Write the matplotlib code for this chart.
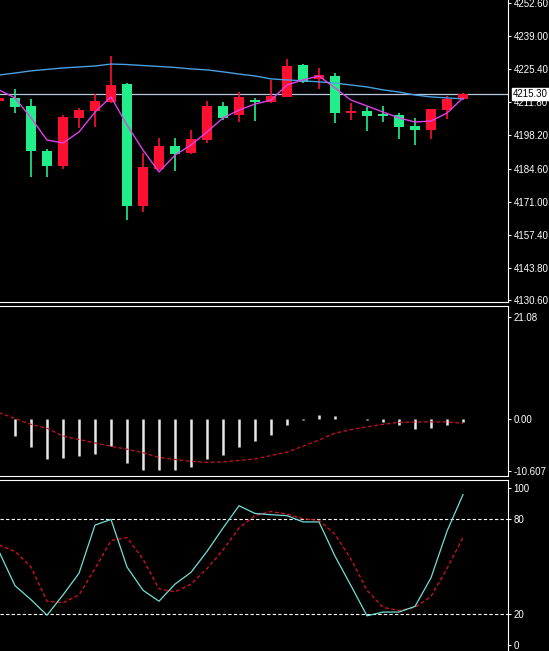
import matplotlib
matplotlib.use("Agg")
import matplotlib.pyplot as plt
import numpy as np

plt.rcParams["font.family"] = ["Liberation Sans", "DejaVu Sans"]

# ── candles (index 0..29) ────────────────────────────────────────────────
OPEN  = [4212.3, 4213.7, 4210.3, 4191.9, 4185.6, 4205.5, 4208.2, 4212.1, 4219.2, 4169.3,
         4184.4, 4193.9, 4190.9, 4196.3, 4210.4, 4206.6, 4212.7, 4211.9, 4214.1, 4227.0,
         4221.3, 4222.6, 4207.5, 4208.1, 4207.0, 4206.6, 4202.1, 4200.4, 4208.6, 4213.0]
CLOSE = [4213.6, 4210.0, 4191.9, 4185.6, 4205.9, 4208.6, 4212.3, 4218.9, 4169.3, 4185.1,
         4193.9, 4190.4, 4196.8, 4210.4, 4205.5, 4214.0, 4211.8, 4214.4, 4226.7, 4220.0,
         4223.1, 4207.5, 4208.3, 4206.3, 4206.0, 4201.8, 4200.4, 4208.9, 4213.0, 4215.3]
HIGH  = [4214.0, 4217.3, 4213.2, 4192.7, 4206.5, 4209.6, 4215.1, 4230.8, 4219.9, 4191.0,
         4197.1, 4197.3, 4200.4, 4212.5, 4211.9, 4216.0, 4213.7, 4221.0, 4229.5, 4227.5,
         4225.8, 4223.7, 4211.6, 4210.0, 4210.3, 4207.5, 4205.2, 4209.2, 4214.4, 4215.6]
LOW   = [4211.8, 4207.4, 4181.1, 4181.2, 4184.6, 4201.2, 4201.8, 4211.5, 4163.4, 4166.7,
         4184.0, 4183.5, 4190.5, 4195.1, 4204.5, 4203.7, 4204.3, 4211.5, 4213.9, 4219.6,
         4217.1, 4203.4, 4204.5, 4200.0, 4203.8, 4196.6, 4194.3, 4196.6, 4204.8, 4212.6]
MA_FAST = [4216.9, 4213.6, 4205.4, 4196.3, 4195.1, 4199.6, 4207.8, 4214.0, 4202.5, 4192.2,
           4183.2, 4190.1, 4194.3, 4199.6, 4205.4, 4208.6, 4211.1, 4212.7, 4218.9, 4221.0,
           4222.6, 4217.7, 4212.7, 4210.3, 4207.8, 4205.4, 4203.7, 4204.1, 4207.4, 4213.6]
MA_SLOW = [4223.0, 4223.8, 4224.7, 4225.3, 4225.9, 4226.3, 4226.7, 4227.5, 4227.3, 4226.9,
           4226.5, 4226.1, 4225.5, 4225.1, 4224.3, 4223.4, 4222.6, 4221.4, 4221.0, 4220.6,
           4220.2, 4219.7, 4218.9, 4218.1, 4216.9, 4216.0, 4214.8, 4214.0, 4213.6, 4213.2]
LAST = 4215.30
PRICE_TICKS = [4252.60, 4239.00, 4225.40, 4211.80, 4198.20, 4184.60, 4171.00, 4157.40, 4143.80, 4130.60]

# ── MACD-like panel ─────────────────────────────────────────────────────
HIST = [-3.4, -5.7, -8.2, -8.0, -7.5, -7.0, -5.5, -8.9, -10.3, -10.3,
        -10.4, -9.8, -8.2, -7.2, -5.7, -4.5, -3.2, -1.2, -0.1, 1.0,
        0.7, 0.1, -0.1, -0.5, -1.2, -1.9, -1.7, -1.2, -0.5]   # index 1..29
SIGNAL = [1.4, 0.2, -1.0, -1.8, -3.4, -4.1, -4.8, -5.5, -6.1, -6.8,
          -7.8, -8.2, -8.6, -8.8, -8.7, -8.4, -8.1, -7.4, -6.7, -5.5,
          -4.2, -2.8, -2.1, -1.5, -1.0, -0.6, -0.5, -0.5, -0.5, -0.8]
MACD_TICKS = [21.08, 0.00, -10.607]
MACD_LABELS = ["21.08", "0.00", "-10.607"]

# ── stochastic ──────────────────────────────────────────────────────────
K = [59.6, 37.8, 28.9, 19.0, 31.9, 45.7, 76.4, 80.0, 49.7, 34.9,
     27.9, 38.8, 46.3, 59.6, 74.5, 88.7, 83.8, 83.0, 82.4, 78.4,
     78.4, 56.6, 37.8, 18.6, 21.0, 21.0, 24.6, 42.8, 72.5, 95.8]
D = [63.6, 59.6, 49.7, 27.9, 26.9, 31.9, 48.7, 66.5, 68.5, 54.7,
     35.8, 33.9, 38.8, 48.7, 60.6, 74.5, 82.4, 85.0, 83.4, 80.4,
     79.4, 70.5, 54.7, 34.9, 24.0, 22.0, 24.0, 30.9, 48.7, 68.5]
STOCH_TICKS = [100, 80, 20, 0]

W, H = 549, 651
AX_R = 508
XL = (1 / 16, (AX_R + 1) / 16)
UP, DOWN = "#ff1030", "#22ee8a"

fig = plt.figure(figsize=(W / 100, H / 100), dpi=100, facecolor="black")


def make_ax(top, bottom):
    ax = fig.add_axes([0, 1 - bottom / H, AX_R / W, (bottom - top) / H])
    ax.set_facecolor("black")
    ax.spines["left"].set_visible(False)
    for s in ("right", "top", "bottom"):
        ax.spines[s].set_color("white")
    ax.yaxis.tick_right()
    ax.tick_params(axis="y", colors="white", labelsize=7, length=2.5, pad=1.5)
    ax.set_xticks([])
    ax.set_xlim(*XL)
    return ax


# main panel
ax = make_ax(0, 302)
x = np.arange(len(OPEN))
for i in x:
    o, c = OPEN[i], CLOSE[i]
    col = UP if c >= o else DOWN
    ax.vlines(i, LOW[i], HIGH[i], color=col, linewidth=1.2, zorder=2)
    ax.bar(i, max(abs(c - o), 0.4), bottom=min(o, c), width=0.68, color=col, zorder=3)
ax.plot(x, MA_SLOW, color="#4a9fe0", linewidth=1, zorder=4)
ax.plot(x, MA_FAST, color="#e040e8", linewidth=1, zorder=4)
ax.axhline(LAST, color="#b8c8e0", linewidth=0.9, zorder=1)
ax.set_ylim(4129.8, 4253.8)
ax.set_yticks(PRICE_TICKS)
ax.set_yticklabels([f"{v:.2f}" for v in PRICE_TICKS])
ax.spines["top"].set_visible(False)
ax.text(1.01, LAST, f"{LAST:.2f}", transform=ax.get_yaxis_transform(), fontsize=7,
        color="black", va="center", ha="left",
        bbox=dict(boxstyle="square,pad=0.12", fc="white", ec="white"), clip_on=False, zorder=10)

# MACD panel
ax2 = make_ax(306, 476)
xi = np.arange(1, len(HIST) + 1)
ax2.vlines(xi, 0, HIST, color="#e8e8e8", linewidth=1.8)
ax2.plot(np.arange(len(SIGNAL)), SIGNAL, color="#d01020", linewidth=0.9, linestyle=(0, (3, 2)))
ax2.set_ylim(-11.6, 23.3)
ax2.set_yticks(MACD_TICKS)
ax2.set_yticklabels(MACD_LABELS)

# stochastic panel
ax3 = make_ax(480, 651)
ax3.axhline(80, color="white", linewidth=0.8, linestyle=(0, (3, 2)))
ax3.axhline(20, color="white", linewidth=0.8, linestyle=(0, (3, 2)))
ax3.plot(x, D, color="#e01020", linewidth=0.9, linestyle=(0, (3, 2)))
ax3.plot(x, K, color="#70e0d8", linewidth=0.9)
ax3.set_ylim(-3.8, 105.1)
ax3.set_yticks(STOCH_TICKS)
ax3.set_yticklabels([str(v) for v in STOCH_TICKS])
ax3.spines["bottom"].set_visible(False)

fig.savefig("out.png", dpi=100, facecolor="black")
